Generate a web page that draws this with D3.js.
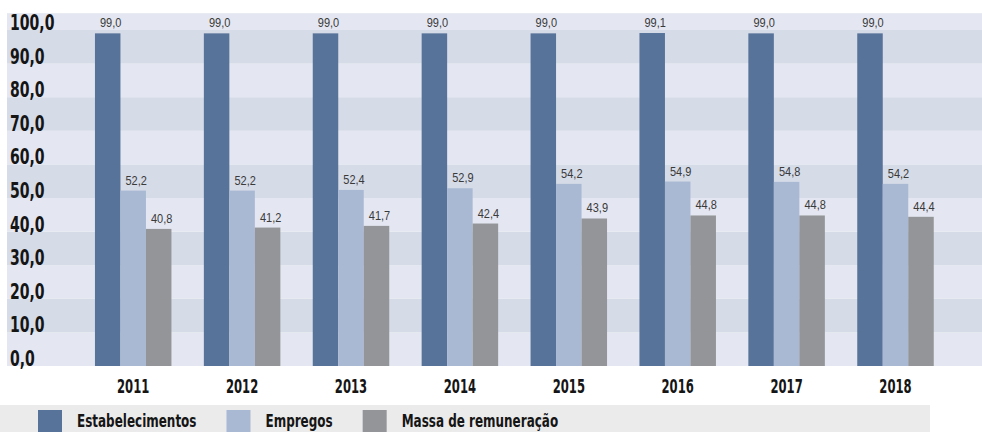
<!DOCTYPE html>
<html>
<head>
<meta charset="utf-8">
<script src="https://cdn.jsdelivr.net/npm/d3@7"></script>
<style>
  body { margin: 0; background: #fff; }
  svg { display: block; }
  .cond { font-family: "DejaVu Sans Condensed", "DejaVu Sans", sans-serif; font-weight: bold; fill: #151515; }
  .val { font-family: "Liberation Sans", Arial, sans-serif; font-size: 12.5px; fill: #3a3a3a; }
</style>
</head>
<body>
<div class="chart-container"></div>
<script>
const years = ['2011', '2012', '2013', '2014', '2015', '2016', '2017', '2018'];
const estabelecimentos = [99.0, 99.0, 99.0, 99.0, 99.0, 99.1, 99.0, 99.0];
const empregos = [52.2, 52.2, 52.4, 52.9, 54.2, 54.9, 54.8, 54.2];
const massa = [40.8, 41.2, 41.7, 42.4, 43.9, 44.8, 44.8, 44.4];
const seriesNames = ['Estabelecimentos', 'Empregos', 'Massa de remuneração'];
const yTicks = [0, 10, 20, 30, 40, 50, 60, 70, 80, 90, 100];

const seriesValues = [estabelecimentos, empregos, massa];
const colors = ['#587399', '#a9b9d4', '#939598'];

const width = 982, height = 432;

const data = years.map((yr, i) => ({
  year: yr,
  values: seriesNames.map((s, k) => ({key: s, value: seriesValues[k][i]}))
}));

const svg = d3.select('.chart-container').append('svg')
    .attr('width', width)
    .attr('height', height);

const y = d3.scaleLinear()
    .domain([0, 100])
    .range([366, 30]);

const x = d3.scaleBand()
    .domain(years)
    .range([40.5, 988.2])
    .paddingInner(0.2975)
    .paddingOuter(0.5);

const xs = d3.scaleBand()
    .domain(seriesNames)
    .range([0, x.bandwidth()]);

const fmt = v => d3.format('.1f')(v).replace('.', ',');

// background bands
const bands = d3.range(0, 110, 10);
svg.append('g').attr('id', 'bands')
  .selectAll('rect')
  .data(bands)
  .enter()
  .append('rect')
    .attr('x', 7)
    .attr('width', width - 7)
    .attr('y', d => y(Math.min(d + 10, 105)))
    .attr('height', d => y(d) - y(Math.min(d + 10, 105)))
    .attr('fill', (d, i) => i % 2 ? '#d5dbe7' : '#e4e7f1');

// y labels
svg.append('g').attr('id', 'y-labels')
  .selectAll('text')
  .data(yTicks)
  .enter()
  .append('text')
    .attr('class', 'cond')
    .attr('font-size', 22)
    .attr('transform', d => 'translate(10,' + y(d) + ') scale(0.71,1)')
    .text(fmt);

// bars
const groups = svg.append('g').attr('id', 'bars')
  .selectAll('g')
  .data(data)
  .enter()
  .append('g')
    .attr('transform', d => 'translate(' + x(d.year) + ',0)');

groups.selectAll('rect')
  .data(d => d.values)
  .enter()
  .append('rect')
    .attr('x', d => xs(d.key))
    .attr('y', d => y(d.value))
    .attr('width', xs.bandwidth())
    .attr('height', d => y(0) - y(d.value))
    .attr('fill', (d, i) => colors[i]);

groups.selectAll('text')
  .data(d => d.values)
  .enter()
  .append('text')
    .attr('class', 'val')
    .attr('text-anchor', 'middle')
    .attr('transform', d => 'translate(' + (xs(d.key) + xs.bandwidth() / 2 + 3) + ',' + (y(d.value) - 6) + ') scale(0.88,1)')
    .text(d => fmt(d.value));

// x labels
svg.append('g').attr('id', 'x-labels')
  .selectAll('text')
  .data(years)
  .enter()
  .append('text')
    .attr('class', 'cond')
    .attr('font-size', 19)
    .attr('text-anchor', 'middle')
    .attr('transform', d => 'translate(' + (x(d) + x.bandwidth() / 2) + ',393) scale(0.68,1)')
    .text(d => d);

// legend
const legend = svg.append('g').attr('id', 'legend');
legend.append('rect')
    .attr('x', 0).attr('y', 405)
    .attr('width', 930).attr('height', 27)
    .attr('fill', '#ebebeb');

const lsx = 0.72;
let lx = 38;
seriesNames.forEach((name, i) => {
  legend.append('rect')
    .attr('x', lx).attr('y', 410)
    .attr('width', 24).attr('height', 24)
    .attr('fill', colors[i]);
  const t = legend.append('text')
    .attr('class', 'cond')
    .attr('font-size', 18.5)
    .attr('transform', 'translate(' + (lx + 39) + ',426.5) scale(' + lsx + ',1)')
    .text(name);
  lx += 39 + t.node().getComputedTextLength() * lsx + 30;
});
</script>
</body>
</html>
